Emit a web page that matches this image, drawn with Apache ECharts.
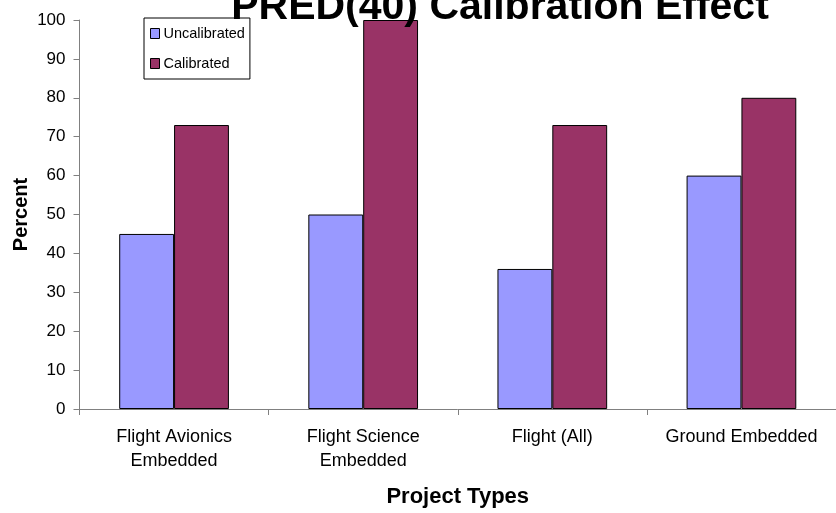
<!DOCTYPE html>
<html>
<head>
<meta charset="utf-8">
<script src="https://cdn.jsdelivr.net/npm/echarts@6/dist/echarts.min.js"></script>
<style>html,body{margin:0;padding:0;background:#fff}#c{width:836px;height:513px}</style>
</head>
<body>
<div id="c"></div>
<script>
var categories = ['Flight Avionics\nEmbedded', 'Flight Science\nEmbedded', 'Flight (All)', 'Ground Embedded'];
var uncalibrated = [45, 50, 36, 60];
var calibrated = [73, 100, 73, 80];
var yTicks = [0, 10, 20, 30, 40, 50, 60, 70, 80, 90, 100];

var chart = echarts.init(document.getElementById('c'));
var F = 'Arial, "Liberation Sans", sans-serif';
chart.setOption({
  animation: false,
  backgroundColor: '#fff',
  title: {
    text: 'PRED(40) Calibration Effect',
    left: 495, textAlign: 'center', top: -18,
    textStyle: {fontFamily: F, fontSize: 41, fontWeight: 'bold', color: '#000'}
  },
  legend: {
    orient: 'vertical', left: 144, top: 18,
    data: ['Uncalibrated', 'Calibrated'],
    itemWidth: 9, itemHeight: 10, itemGap: 15,
    borderColor: '#000', borderWidth: 1, padding: [8, 5, 8, 6],
    icon: 'rect',
    itemStyle: {borderColor: '#000', borderWidth: 1},
    textStyle: {fontFamily: F, fontSize: 14.5, color: '#000', padding: [0, 0, 0, -1]}
  },
  grid: {left: 79.5, top: 20, width: 762, height: 389, containLabel: false},
  xAxis: {
    type: 'category', data: categories,
    name: 'Project Types', nameLocation: 'middle', nameGap: 77,
    nameMoveOverlap: false,
    nameTextStyle: {fontFamily: F, fontSize: 22, fontWeight: 'bold', color: '#000'},
    axisLine: {lineStyle: {color: '#808080', width: 1}},
    axisTick: {show: true, length: 6, alignWithLabel: false, lineStyle: {color: '#808080'}},
    axisLabel: {fontFamily: F, fontSize: 18, color: '#000', margin: 16, lineHeight: 24, interval: 0}
  },
  yAxis: {
    type: 'value', min: 0, max: 100, interval: 10,
    name: 'Percent', nameLocation: 'middle', nameGap: 48, nameRotate: 90,
    nameMoveOverlap: false,
    nameTextStyle: {fontFamily: F, fontSize: 20, fontWeight: 'bold', color: '#000'},
    axisLine: {show: true, lineStyle: {color: '#808080', width: 1}},
    axisTick: {show: true, length: 6, lineStyle: {color: '#808080'}},
    axisLabel: {fontFamily: F, fontSize: 17, color: '#000', margin: 14,
      formatter: function (v) { return yTicks.indexOf(v) >= 0 ? String(v) : ''; }},
    splitLine: {show: false}
  },
  series: [
    {name: 'Uncalibrated', type: 'bar', data: uncalibrated, barGap: '0%', barCategoryGap: '42%',
     itemStyle: {color: '#9999FF', borderColor: '#000', borderWidth: 1}},
    {name: 'Calibrated', type: 'bar', data: calibrated, barGap: '0%', barCategoryGap: '42%',
     itemStyle: {color: '#993366', borderColor: '#000', borderWidth: 1}}
  ]
});
</script>
</body>
</html>
